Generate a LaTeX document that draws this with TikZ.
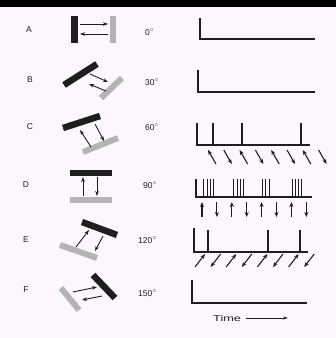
\documentclass[tikz,border=0pt]{standalone}
\usepackage{fontspec}
\setmainfont{Liberation Sans}
\usetikzlibrary{arrows.meta}
\definecolor{bgpink}{RGB}{252,247,252}
\definecolor{graybar}{RGB}{180,180,180}
\definecolor{ink}{RGB}{30,30,30}
\newcommand{\dg}{\raisebox{3.5pt}{\fontsize{6.5}{6.5}\selectfont$\circ$}}
\begin{document}
\begin{tikzpicture}[x=1pt,y=-1pt,
  lbl/.style={font=\fontsize{8.5}{9}\selectfont, inner sep=0pt, text=ink},
  ang/.style={font=\fontsize{8.5}{9}\selectfont, inner sep=0pt, anchor=west, text=ink},
  darkbar/.style={line width=6.5pt, draw=ink},
  lightbar/.style={line width=6pt, draw=graybar},
  ray/.style={line width=0.9pt, draw=ink, -{Stealth[length=5pt,width=3.6pt]}},
  axis/.style={line width=1.4pt, draw=ink},
  spike/.style={line width=1.3pt, draw=ink},
  thinspike/.style={line width=0.9pt, draw=ink},
  tickarrow/.style={line width=1.1pt, draw=ink, -{Stealth[length=5pt,width=4pt]}}]

\useasboundingbox (0,0) rectangle (336,338);
\fill[bgpink] (0,0) rectangle (336,338);
\fill[black] (0,0) rectangle (336,7);

% row labels
\node[lbl] (la) at (29,30) {A};
\node[lbl] (lb) at (30,80) {B};
\node[lbl] (lc) at (30,127) {C};
\node[lbl] (ld) at (26,185) {D};
\node[lbl] (le) at (26,240) {E};
\node[lbl] (lf) at (26,290) {F};

% angle labels
\node[ang] (aa) at (145,32) {0\dg};
\node[ang] (ab) at (145,82) {30\dg};
\node[ang] (ac) at (145,127) {60\dg};
\node[ang] (ad) at (143,185) {90\dg};
\node[ang] (ae) at (138,240) {120\dg};
\node[ang] (af) at (138,293) {150\dg};

% A
\draw[darkbar] (74.5,16) -- (74.5,43);
\draw[lightbar] (113,16) -- (113,43);
\draw[ray] (80,24) -- (108,24);
\draw[ray] (108,34) -- (80,34);

% B
\draw[darkbar] (64,85) -- (97,64);
\draw[lightbar] (101,98) -- (122,78);
\draw[ray] (90,74) -- (108,82);
\draw[ray] (106,91) -- (89,84);

% C
\draw[darkbar] (63,128) -- (100,116);
\draw[lightbar] (83,152) -- (118,138);
\draw[ray] (91,147) -- (80,130);
\draw[ray] (95,124) -- (104,141);

% D
\draw[darkbar] (70,173) -- (112,173);
\draw[lightbar] (70,200) -- (112,200);
\draw[ray] (83,196) -- (83,177);
\draw[ray] (97,177) -- (97,196);

% E
\draw[darkbar] (82,222) -- (117,235);
\draw[lightbar] (60,245) -- (97,258);
\draw[ray] (76,247) -- (89,230);
\draw[ray] (103,236) -- (95,251);

% F
\draw[darkbar] (93,275) -- (115,298);
\draw[lightbar] (61,288) -- (79,310);
\draw[ray] (73,292) -- (97,287);
\draw[ray] (102,296) -- (82,300);

% graphs
\draw[axis] (200,18) -- (200,39) -- (315,39);
\draw[axis] (198,70) -- (198,92) -- (315,92);

\draw[axis] (197,123) -- (197,145) -- (310,145);
\foreach \x in {213,242,301} \draw[spike] (\x,145) -- (\x,123);
\foreach \i in {0,2,4,6} \draw[tickarrow] ({212+15.8*\i+4},164) -- ({212+15.8*\i-4},150);
\foreach \i in {1,3,5,7} \draw[tickarrow] ({212+15.8*\i-4},150) -- ({212+15.8*\i+4},164);

\draw[axis] (196,179) -- (196,197) -- (312,197);
\foreach \x in {203,207.5,210.5,213,233,237.5,240.5,243,262,265.5,269,292,295.5,298,301}
  \draw[thinspike] (\x,197) -- (\x,179);
\foreach \i in {0,2,4,6} \draw[tickarrow] ({202+14.9*\i},217) -- ({202+14.9*\i},202);
\foreach \i in {1,3,5,7} \draw[tickarrow] ({202+14.9*\i},202) -- ({202+14.9*\i},217);

\draw[axis] (194,228) -- (194,252) -- (308,252);
\foreach \x in {208,268,300} \draw[spike] (\x,252) -- (\x,230);
\foreach \i in {0,2,4,6} \draw[tickarrow] ({200+15.6*\i-5},267) -- ({200+15.6*\i+5},254);
\foreach \i in {1,3,5,7} \draw[tickarrow] ({200+15.6*\i+5},254) -- ({200+15.6*\i-5},267);

\draw[axis] (192,280) -- (192,303) -- (307,303);

% time axis label
\node[lbl, anchor=west] (time) at (213,318) {\scalebox{1.5}[1]{\fontsize{8.5}{9}\selectfont Time}};
\coordinate (tend) at (288,318);
\draw[line width=0.8pt, draw=ink, -{Stealth[length=5pt,width=3pt]}] ([xshift=5pt]time.east) -- (tend);
\end{tikzpicture}
\end{document}
